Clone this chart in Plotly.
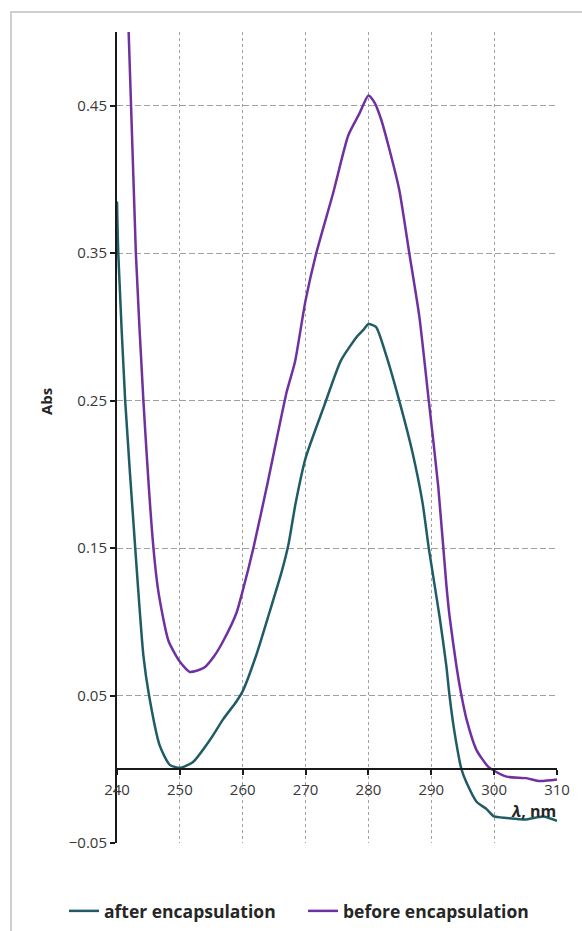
import plotly.graph_objects as go

# wavelength (nm) and absorbance for each series
after_x = [240, 240.2, 241.3, 242.9, 244.2, 245.1, 246.8, 248.4, 250, 252.1, 254.8, 256.9, 259, 260,
           262.2, 264.3, 266.2, 267.3, 268.4, 270, 273, 275.6, 278.1, 279.2, 280, 281.2, 282.8, 284.9,
           287, 288.6, 289.6, 291.3, 292.4, 292.9, 293.7, 294.8, 295.6, 297.2, 298.8, 300, 302, 305.1,
           307.8, 310]
after_y = [0.385, 0.35, 0.25, 0.15, 0.077, 0.05, 0.016, 0.003, 0.001, 0.005, 0.02, 0.034, 0.046, 0.053,
           0.078, 0.107, 0.134, 0.153, 0.18, 0.211, 0.247, 0.277, 0.293, 0.298, 0.302, 0.30, 0.281, 0.25,
           0.215, 0.181, 0.15, 0.104, 0.07, 0.05, 0.025, 0.0, -0.009, -0.022, -0.027, -0.032, -0.033,
           -0.034, -0.032, -0.035]

before_x = [241.7, 243.0, 244.2, 245.8, 246.6, 248.2, 250, 251.6, 252.8, 253.9, 255.5, 256.9, 259, 260,
            261.7, 264, 267, 268.3, 270, 271.7, 274.4, 276.8, 278.6, 280, 281, 282, 283.3, 284.9, 286.5,
            288.1, 289.6, 291.1, 292.4, 292.9, 294.0, 294.8, 295.6, 297.2, 299.0, 300, 302, 305.1,
            307.3, 310]
before_y = [0.52, 0.35, 0.25, 0.15, 0.12, 0.087, 0.073, 0.066, 0.067, 0.069, 0.077, 0.087, 0.106, 0.121,
            0.15, 0.195, 0.256, 0.276, 0.318, 0.35, 0.391, 0.43, 0.445, 0.457, 0.452, 0.441, 0.421, 0.393,
            0.35, 0.307, 0.25, 0.192, 0.125, 0.104, 0.07, 0.05, 0.034, 0.013, 0.002, -0.001, -0.005,
            -0.006, -0.008, -0.007]

x_ticks = [240, 250, 260, 270, 280, 290, 300, 310]
y_ticks = [-0.05, 0.05, 0.15, 0.25, 0.35, 0.45]

TEAL = "#1F5C66"
PURPLE = "#7030A0"
FONT = "Open Sans"
TICK_COLOR = "#383838"

fig = go.Figure()
fig.add_trace(go.Scatter(x=after_x, y=after_y, mode="lines", name="<b>after encapsulation</b>",
                         line=dict(color=TEAL, width=2.5, shape="spline", smoothing=0.6)))
fig.add_trace(go.Scatter(x=before_x, y=before_y, mode="lines", name="<b>before encapsulation</b>",
                         line=dict(color=PURPLE, width=2.5, shape="spline", smoothing=0.6)))

# plot area in page pixels
W, H = 582, 931
PL, PR, PT, PB = 117, 557, 32, 843
pw, ph = PR - PL, PB - PT


def px(x):
    return (x - PL) / pw


def py(y):
    return (PB - y) / ph


ymin, ymax = -0.05, 0.5
fig.update_layout(
    width=W, height=H,
    margin=dict(l=PL, r=W - PR, t=PT, b=H - PB, autoexpand=False),
    paper_bgcolor="white", plot_bgcolor="white",
    font=dict(family=FONT, color=TICK_COLOR, size=15),
    xaxis=dict(range=[240, 310], tickvals=x_ticks, showgrid=True, gridcolor="#a0a0a0",
               griddash="3px,3px", gridwidth=1, showline=True, linecolor="#1a1a1a", linewidth=2,
               anchor="free", position=(0 - ymin) / (ymax - ymin), ticks="outside",
               ticklen=5, tickcolor="#1a1a1a", tickwidth=1.5, zeroline=False,
               ticklabelstandoff=2,
               tickfont=dict(size=15, color=TICK_COLOR)),
    yaxis=dict(range=[ymin, ymax], tickvals=y_ticks, tickformat=".2f", showgrid=True,
               gridcolor="#a0a0a0", griddash="6px,3px", gridwidth=1, showline=True,
               linecolor="#1a1a1a", linewidth=2, ticks="outside", ticklen=5,
               tickcolor="#1a1a1a", tickwidth=1.5, zeroline=False,
               tickfont=dict(size=15, color=TICK_COLOR)),
    legend=dict(orientation="h", x=px(64), y=py(911), xanchor="left", yanchor="middle",
                font=dict(size=17.5, color="#262626", family=FONT), itemwidth=30,
                entrywidth=194, entrywidthmode="pixels",
                bgcolor="rgba(0,0,0,0)"),
    showlegend=True,
)

fig.add_annotation(text="<b>Abs</b>", x=px(46), y=py(402), xref="paper", yref="paper",
                   xanchor="center", yanchor="middle",
                   textangle=-90, showarrow=False, font=dict(size=15, color="#262626"))
fig.add_annotation(text="<b><i>λ</i>, nm</b>", x=px(533), y=py(811), xref="paper", yref="paper",
                   xanchor="center", yanchor="middle",
                   showarrow=False, font=dict(size=16, color="#262626"))

fig.add_shape(type="rect", xref="paper", yref="paper", x0=px(11), x1=px(600), y0=py(960), y1=py(12),
              line=dict(color="#c0c0c0", width=1.5), layer="below")

fig.write_html("out.html", config={"displayModeBar": False},
               post_script="document.body.style.margin='0px';document.body.style.overflow='hidden';")
